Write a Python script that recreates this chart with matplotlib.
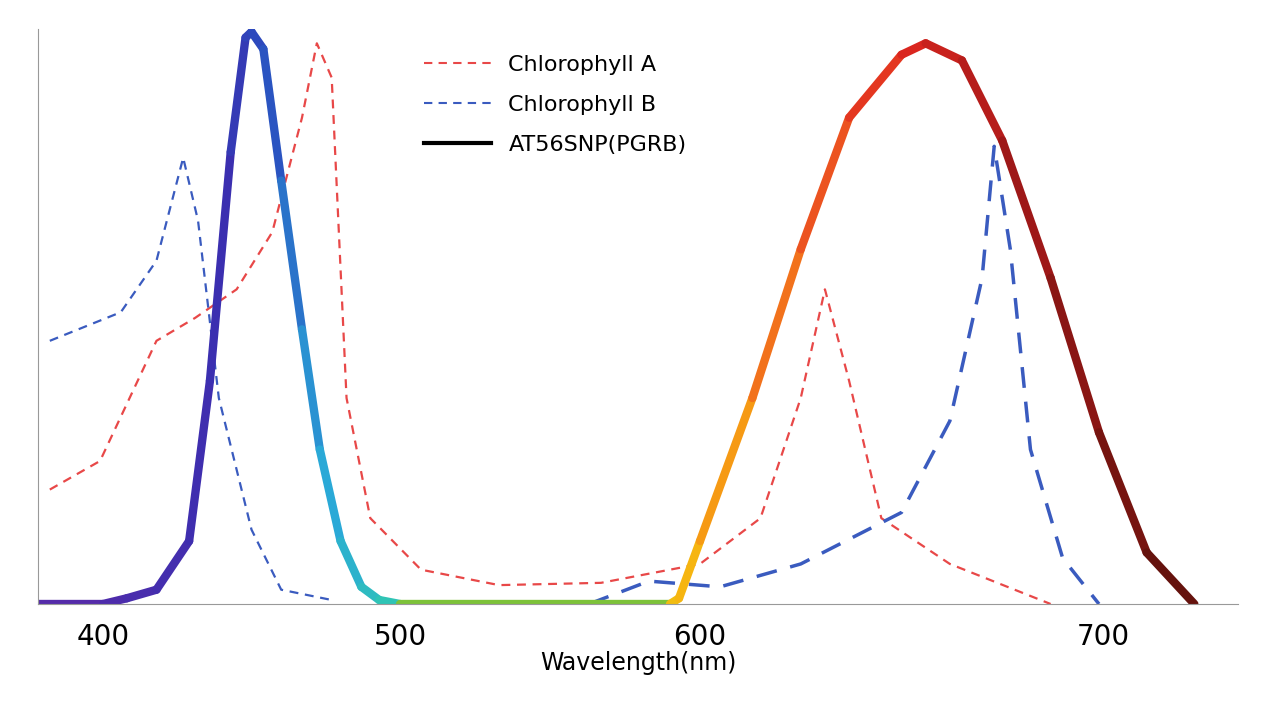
import numpy as np
import matplotlib
matplotlib.use("Agg")
import matplotlib.pyplot as plt
from matplotlib.collections import LineCollection
from matplotlib.lines import Line2D
from matplotlib.colors import LinearSegmentedColormap

at_x = [378, 400, 408, 418, 429, 436, 443, 448, 450, 454, 460, 467, 473, 480, 487, 493, 500, 590, 593, 600, 613, 625, 637, 650, 656, 665, 675, 687, 699, 711, 723]
at_y = [0, 0, 0.01, 0.025, 0.11, 0.39, 0.79, 0.99, 1.0, 0.97, 0.74, 0.48, 0.27, 0.11, 0.03, 0.007, 0, 0, 0.01, 0.11, 0.36, 0.62, 0.85, 0.96, 0.98, 0.95, 0.81, 0.57, 0.30, 0.09, 0]

cha_x = [382, 399, 418, 431, 445, 457, 467, 472, 477, 482, 490, 507, 533, 567, 600, 615, 625, 631, 637, 645, 662, 687]
cha_y = [0.20, 0.25, 0.46, 0.50, 0.55, 0.65, 0.85, 0.98, 0.92, 0.36, 0.15, 0.06, 0.033, 0.037, 0.07, 0.15, 0.36, 0.55, 0.39, 0.15, 0.07, 0]

chb1_x = [382, 406, 418, 427, 432, 439, 450, 460, 477]
chb1_y = [0.46, 0.51, 0.60, 0.78, 0.67, 0.36, 0.13, 0.025, 0.007]
chb2_x = [563, 583, 605, 625, 650, 662, 670, 673, 677, 682, 690, 699]
chb2_y = [0.0, 0.04, 0.03, 0.07, 0.16, 0.32, 0.57, 0.80, 0.62, 0.27, 0.08, 0]

# the original chart's wavelength axis is not uniformly spaced
scale_nm = np.array([300, 378, 400, 500, 600, 700, 734, 800])
scale_px = np.array([-200, 38, 103, 400, 700, 1103, 1238, 1500], float)
fwd = lambda v: np.interp(v, scale_nm, scale_px)
inv = lambda p: np.interp(p, scale_px, scale_nm)

fig = plt.figure(figsize=(12.8, 7.2), dpi=100)
ax = fig.add_axes([38/1280, 1-604/720, 1200/1280, 575/720])
ax.set_xscale("function", functions=(fwd, inv))
ax.set_xlim(378, 734)
ax.set_ylim(0, 1.005)

ax.plot(cha_x, cha_y, color="#e84848", lw=1.6, ls=(0, (4, 3)))
ax.plot(chb1_x, chb1_y, color="#3a5bbf", lw=1.6, ls=(0, (4, 3)))
ax.plot(chb2_x, chb2_y, color="#3a5bbf", lw=2.5, ls=(0, (6, 4)))

wl = np.array(at_x, float)
pts = np.column_stack([wl, at_y]).reshape(-1, 1, 2)
segs = np.concatenate([pts[:-1], pts[1:]], axis=1)
anchors = [(378, "#5a2aa8"), (440, "#3b2fb0"), (455, "#2a4fc0"), (475, "#2aa8d8"), (500, "#30c8b0"),
           (540, "#6cc040"), (580, "#e8d010"), (600, "#f8b010"), (625, "#f06020"), (650, "#e02820"),
           (680, "#a01818"), (734, "#4a1008")]
cmap = LinearSegmentedColormap.from_list("spec", [((a - 378) / (734 - 378), c) for a, c in anchors])
mids = (wl[:-1] + wl[1:]) / 2
lc = LineCollection(segs, colors=cmap((mids - 378) / (734 - 378)), linewidths=6, capstyle="round", joinstyle="round")
ax.add_collection(lc)

for s in ["top", "right"]:
    ax.spines[s].set_visible(False)
for s in ["left", "bottom"]:
    ax.spines[s].set_color("#999999")
ax.set_yticks([])
ax.set_xticks([400, 500, 600, 700])
ax.set_xticks([], minor=True)
ax.tick_params(axis="x", length=0, labelsize=20, pad=14)
ax.set_xlabel("Wavelength(nm)", fontsize=17, labelpad=0)

handles = [Line2D([], [], color="#e84848", ls=(0, (4, 3)), lw=1.5),
           Line2D([], [], color="#3a5bbf", ls=(0, (4, 3)), lw=1.5),
           Line2D([], [], color="black", lw=3)]
ax.legend(handles, ["Chlorophyll A", "Chlorophyll B", "AT56SNP(PGRB)"], loc="upper left",
          bbox_to_anchor=(0.305, 0.99), frameon=False, fontsize=16, handlelength=3, labelspacing=0.9)

fig.savefig("out.png", dpi=100)
